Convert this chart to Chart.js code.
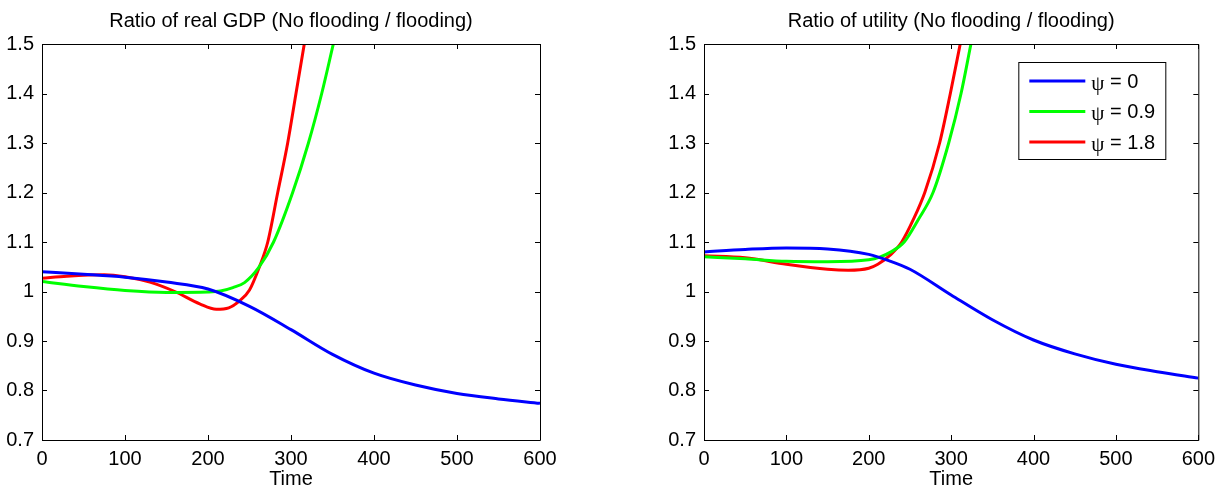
<!DOCTYPE html>
<html>
<head>
<meta charset="utf-8">
<script src="https://cdn.jsdelivr.net/npm/chart.js@4/dist/chart.umd.min.js"></script>
<style>
  body { margin: 0; background: #fff; }
  #wrap { position: relative; width: 1222px; height: 489px; }
  .panel { position: absolute; top: 0; width: 611px; height: 489px; }
</style>
</head>
<body>
<div id="wrap">
  <div class="panel" style="left:0"><canvas id="gdp"></canvas></div>
  <div class="panel" style="left:611px"><canvas id="util"></canvas></div>
</div>
<script>
// values
var psiLabels = ['\u03c8 = 0', '\u03c8 = 0.9', '\u03c8 = 1.8'];
var lineColors = ['#0000ff', '#00ff00', '#ff0000'];
var xTicks = [0, 100, 200, 300, 400, 500, 600];
var yTicks = [0.7, 0.8, 0.9, 1, 1.1, 1.2, 1.3, 1.4, 1.5];

// real GDP ratio
var gdpTime0 = [0, 50, 100, 150, 200, 250, 300, 350, 400, 450, 500, 550, 600];
var gdpPsi0 = [1.040, 1.035, 1.029, 1.019, 1.005, 0.970, 0.923, 0.873, 0.835, 0.811, 0.794, 0.783, 0.774];
var gdpTime09 = [0, 50, 100, 150, 200, 215, 230, 244, 261, 279, 302, 321, 337, 351];
var gdpPsi09 = [1.020, 1.010, 1.002, 0.998, 0.999, 1.001, 1.008, 1.018, 1.048, 1.100, 1.200, 1.300, 1.400, 1.500];
var gdpTime18 = [0, 30, 75, 100, 130, 160, 190, 210, 225, 238, 250, 262, 272, 284, 296, 306, 316];
var gdpPsi18 = [1.027, 1.031, 1.034, 1.030, 1.019, 1.000, 0.975, 0.964, 0.967, 0.981, 1.003, 1.050, 1.100, 1.200, 1.300, 1.400, 1.500];

// utility ratio
var utilTime0 = [0, 50, 100, 150, 200, 225, 250, 300, 350, 400, 450, 500, 550, 600];
var utilPsi0 = [1.080, 1.085, 1.088, 1.086, 1.075, 1.062, 1.045, 0.993, 0.943, 0.902, 0.874, 0.853, 0.838, 0.825];
var utilTime09 = [0, 50, 100, 150, 200, 214, 227, 243, 260, 278, 297, 312, 324];
var utilPsi09 = [1.070, 1.066, 1.061, 1.060, 1.064, 1.070, 1.080, 1.100, 1.145, 1.200, 1.300, 1.400, 1.500];
var utilTime18 = [0, 50, 100, 150, 175, 200, 211, 227, 240, 254, 268, 286, 299, 311];
var utilPsi18 = [1.072, 1.068, 1.055, 1.045, 1.043, 1.047, 1.055, 1.075, 1.100, 1.145, 1.200, 1.300, 1.400, 1.500];

var FONT = "'Liberation Sans', Arial, sans-serif";

function pts(xs, ys) {
    return xs.map(function (x, i) { return { x: x, y: ys[i] }; });
}

// title centred over the plot box
var boxTitle = {
    id: 'boxTitle',
    afterDraw: function (chart, args, opts) {
        var c = chart.ctx, a = chart.chartArea;
        c.save();
        c.font = '20px ' + FONT;
        c.fillStyle = '#000';
        c.textAlign = 'center';
        c.textBaseline = 'middle';
        c.fillText(opts.text, (a.left + a.right) / 2, 21);
        c.restore();
    }
};

// black box with inward ticks
var boxPlugin = {
    id: 'box',
    afterDraw: function (chart) {
        var c = chart.ctx, a = chart.chartArea;
        var xs = chart.scales.x, ys = chart.scales.y;
        var len = 5;
        c.save();
        c.strokeStyle = '#000';
        c.lineWidth = 1;
        c.beginPath();
        c.rect(a.left + 0.5, a.top + 0.5, a.right - a.left, a.bottom - a.top);
        xTicks.forEach(function (t) {
            var px = Math.round(xs.getPixelForValue(t)) + 0.5;
            c.moveTo(px, a.bottom); c.lineTo(px, a.bottom - len);
            c.moveTo(px, a.top); c.lineTo(px, a.top + len);
        });
        yTicks.forEach(function (t) {
            var py = Math.round(ys.getPixelForValue(t)) + 0.5;
            c.moveTo(a.left, py); c.lineTo(a.left + len, py);
            c.moveTo(a.right, py); c.lineTo(a.right - len, py);
        });
        c.stroke();
        c.restore();
    }
};

// legend inside the plot, top right
var boxLegend = {
    id: 'boxLegend',
    afterDraw: function (chart, args, opts) {
        if (!opts.show) return;
        var c = chart.ctx, a = chart.chartArea;
        var w = 147, h = 97;
        var left = a.right - 33 - w, top = a.top + 18;
        c.save();
        c.fillStyle = '#fff';
        c.fillRect(left, top, w, h);
        c.strokeStyle = '#000';
        c.lineWidth = 1;
        c.strokeRect(left + 0.5, top + 0.5, w, h);
        c.textBaseline = 'middle';
        chart.data.datasets.forEach(function (ds, i) {
            var y = top + 19 + i * 30.5;
            c.strokeStyle = ds.borderColor;
            c.lineWidth = 3;
            c.beginPath();
            c.moveTo(left + 11, y); c.lineTo(left + 67, y);
            c.stroke();
            c.fillStyle = '#000';
            // psi in a serif face, the rest in sans
            c.font = '21px "Liberation Serif", serif';
            c.fillText(ds.label.charAt(0), left + 73, y + 3);
            var pw = c.measureText(ds.label.charAt(0)).width;
            c.font = '20px ' + FONT;
            c.fillText(ds.label.slice(1), left + 73 + pw, y + 1);
        });
        c.restore();
    }
};

function makeChart(id, title, series, yWidth, padRight, showLegend) {
    new Chart(document.getElementById(id), {
        type: 'line',
        data: {
            datasets: series.map(function (s, i) {
                return {
                    label: psiLabels[i],
                    data: s,
                    borderColor: lineColors[i],
                    borderWidth: 3,
                    pointRadius: 0,
                    fill: false,
                    cubicInterpolationMode: 'monotone'
                };
            })
        },
        options: {
            responsive: true,
            maintainAspectRatio: false,
            animation: false,
            layout: { padding: { left: 0, right: padRight, top: 44, bottom: 0 } },
            plugins: {
                legend: { display: false },
                tooltip: { enabled: false },
                title: { display: false },
                boxLegend: { show: showLegend },
                boxTitle: { text: title }
            },
            scales: {
                x: {
                    type: 'linear',
                    min: 0, max: 600,
                    afterBuildTicks: function (s) { s.ticks = xTicks.map(function (v) { return { value: v }; }); },
                    afterFit: function (s) { s.height = 49; },
                    grid: { display: false, drawTicks: false },
                    border: { display: false },
                    ticks: { color: '#000', padding: 7, maxRotation: 0, font: { family: FONT, size: 20 } },
                    title: { display: true, text: 'Time', color: '#000', padding: { top: 0, bottom: 0 },
                             font: { family: FONT, size: 20, lineHeight: 1 } }
                },
                y: {
                    min: 0.7, max: 1.5,
                    afterBuildTicks: function (s) { s.ticks = yTicks.map(function (v) { return { value: v }; }); },
                    afterFit: function (s) { s.width = yWidth; },
                    grid: { display: false, drawTicks: false },
                    border: { display: false },
                    ticks: { color: '#000', padding: 8, font: { family: FONT, size: 20 },
                             callback: function (v) { return String(Math.round(v * 10) / 10); } }
                }
            }
        },
        plugins: [boxPlugin, boxLegend, boxTitle]
    });
}

makeChart('gdp', 'Ratio of real GDP (No flooding / flooding)',
    [pts(gdpTime0, gdpPsi0), pts(gdpTime09, gdpPsi09), pts(gdpTime18, gdpPsi18)], 42, 71, false);
makeChart('util', 'Ratio of utility (No flooding / flooding)',
    [pts(utilTime0, utilPsi0), pts(utilTime09, utilPsi09), pts(utilTime18, utilPsi18)], 93, 20, true);
</script>
</body>
</html>
